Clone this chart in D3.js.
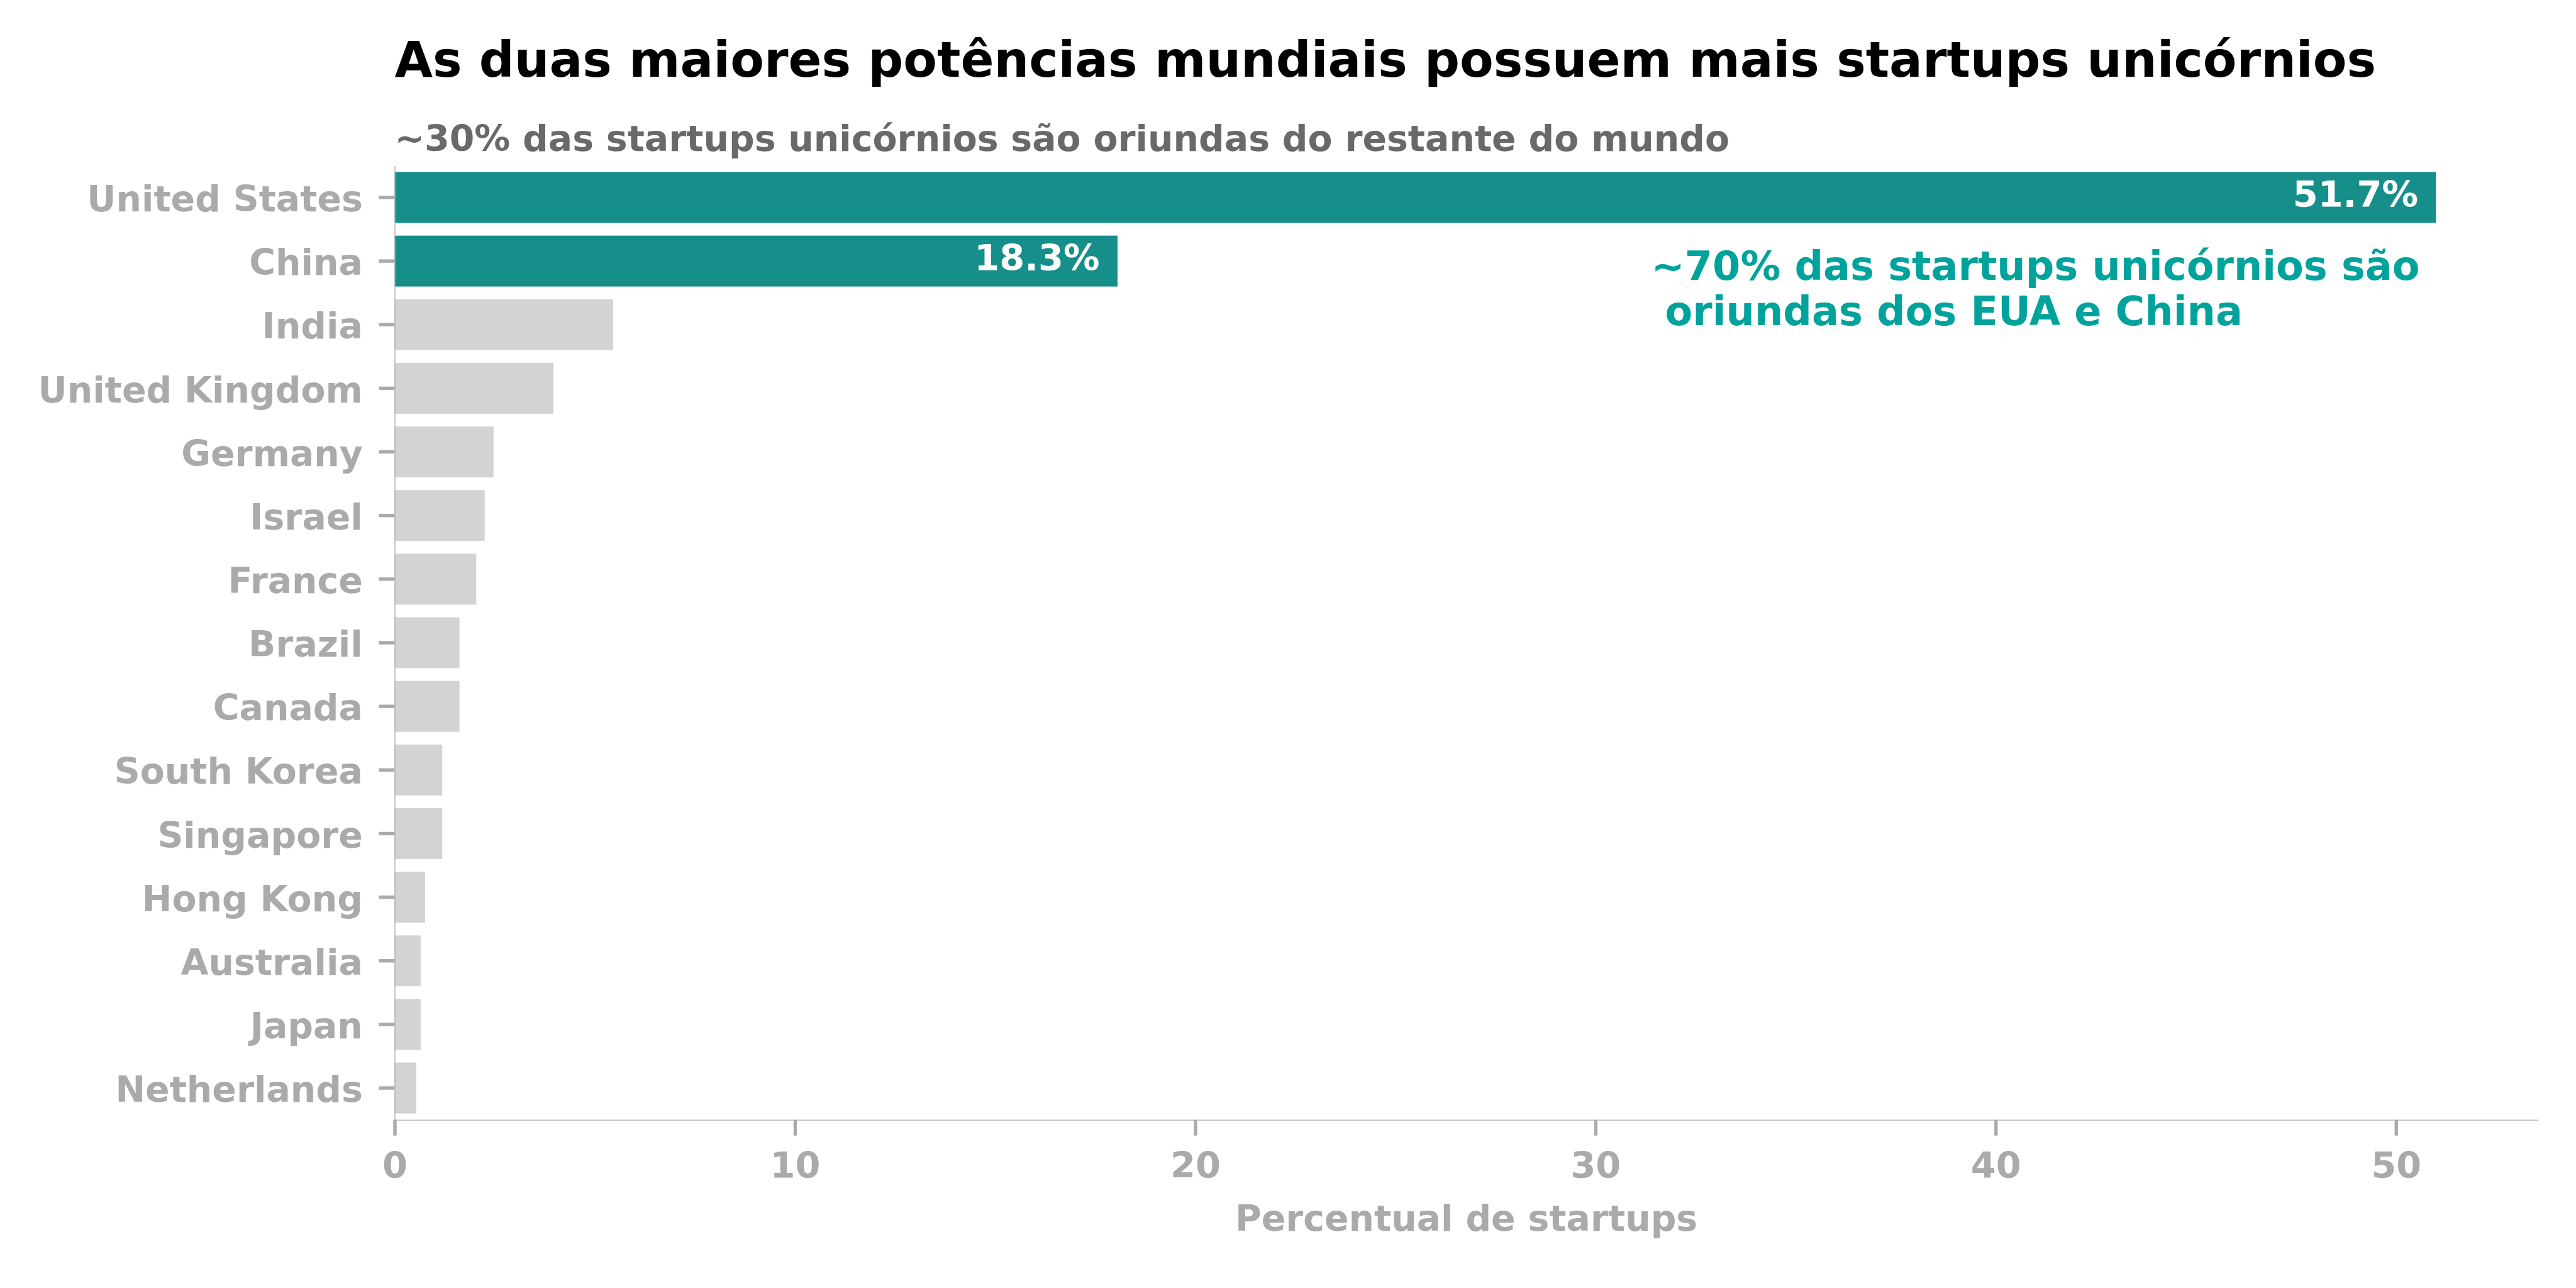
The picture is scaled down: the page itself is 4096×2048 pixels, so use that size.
<!DOCTYPE html>
<html>
<head>
<meta charset="utf-8">
<script src="https://cdn.jsdelivr.net/npm/d3@7"></script>
<style>
  html, body { margin: 0; padding: 0; background: #ffffff; }
  svg { display: block; }
  text { font-family: "DejaVu Sans", sans-serif; font-weight: bold; }
</style>
</head>
<body>
<script>
// ---- data ----
const countries = ["United States", "China", "India", "United Kingdom", "Germany", "Israel", "France",
  "Brazil", "Canada", "South Korea", "Singapore", "Hong Kong", "Australia", "Japan", "Netherlands"];
const shares = [51.0, 18.06, 5.46, 3.97, 2.47, 2.25, 2.04, 1.62, 1.62, 1.19, 1.19, 0.76, 0.65, 0.65, 0.54];
const highlighted = ["United States", "China"];
const barLabels = ["51.7%", "18.3%"];
const xTicks = [0, 10, 20, 30, 40, 50];
const titleText = "As duas maiores potências mundiais possuem mais startups unicórnios";
const subtitleText = "~30% das startups unicórnios são oriundas do restante do mundo";
const annotationLines = ["~70% das startups unicórnios são", " oriundas dos EUA e China"];
const xLabelText = "Percentual de startups";

// ---- layout (reference pixels scaled to window) ----
const W = 4096, H = 2048;
const s = W / 7200;
const plotLeft = 1103 * s, plotRight = 7094 * s, plotTop = 463 * s, plotBottom = 3130 * s;

const teal = "#168f8b", gray = "#d3d3d3", tickGray = "#aaaaaa", spineGray = "#b0b0b0";

const svg = d3.select("body").append("svg").attr("width", W).attr("height", H);

const x = d3.scaleLinear().domain([0, d3.max(shares) * 1.05]).range([plotLeft, plotRight]);
const y = d3.scaleBand().domain(countries).range([plotTop, plotBottom]).paddingInner(0.2).paddingOuter(0.1);

// bars
svg.append("g").selectAll("rect").data(countries).join("rect")
  .attr("x", x(0))
  .attr("y", d => y(d))
  .attr("width", (d, i) => x(shares[i]) - x(0))
  .attr("height", y.bandwidth())
  .attr("fill", d => highlighted.includes(d) ? teal : gray);

// bar value labels
svg.append("g").selectAll("text").data(barLabels).join("text")
  .attr("x", (d, i) => x(shares[i]) - 50 * s)
  .attr("y", (d, i) => y(countries[i]) + y.bandwidth() / 2 + 26 * s)
  .attr("text-anchor", "end")
  .attr("fill", "#ffffff")
  .attr("font-size", 101 * s)
  .text(d => d);

// x axis
const gx = svg.append("g").attr("transform", `translate(0,${plotBottom})`)
  .call(d3.axisBottom(x).tickValues(xTicks).tickSize(44 * s).tickSizeOuter(0).tickFormat(d3.format("d")));
gx.select(".domain").attr("stroke", spineGray).attr("stroke-width", 2.5 * s);
gx.selectAll(".tick line").attr("stroke", tickGray).attr("stroke-width", 9.5 * s);
gx.selectAll(".tick text")
  .attr("y", 163 * s).attr("dy", null)
  .attr("fill", tickGray).attr("font-size", 101 * s)
  .attr("font-family", "DejaVu Sans").attr("font-weight", "bold");

// y axis
const gy = svg.append("g").attr("transform", `translate(${plotLeft},0)`)
  .call(d3.axisLeft(y).tickSize(44 * s).tickSizeOuter(0).tickPadding(45 * s));
gy.select(".domain").attr("stroke", spineGray).attr("stroke-width", 2.5 * s);
gy.selectAll(".tick line").attr("stroke", tickGray).attr("stroke-width", 9.5 * s);
gy.selectAll(".tick text")
  .attr("dy", 39 * s)
  .attr("fill", tickGray).attr("font-size", 100 * s)
  .attr("font-family", "DejaVu Sans").attr("font-weight", "bold");

// x label
svg.append("text")
  .attr("x", (plotLeft + plotRight) / 2).attr("y", 3440 * s)
  .attr("text-anchor", "middle")
  .attr("fill", tickGray).attr("font-size", 100 * s)
  .text(xLabelText);

// title & subtitle
svg.append("text")
  .attr("x", plotLeft).attr("y", 215 * s)
  .attr("fill", "#000000").attr("font-size", 137.5 * s)
  .text(titleText);
svg.append("text")
  .attr("x", plotLeft).attr("y", 422 * s)
  .attr("fill", "#696969").attr("font-size", 100 * s)
  .text(subtitleText);

// annotation
svg.append("g").selectAll("text").data(annotationLines).join("text")
  .attr("x", 4615 * s)
  .attr("y", (d, i) => (783 + i * 125) * s)
  .attr("fill", "#00a39c").attr("font-size", 112 * s)
  .style("white-space", "pre")
  .text(d => d);
</script>
</body>
</html>
